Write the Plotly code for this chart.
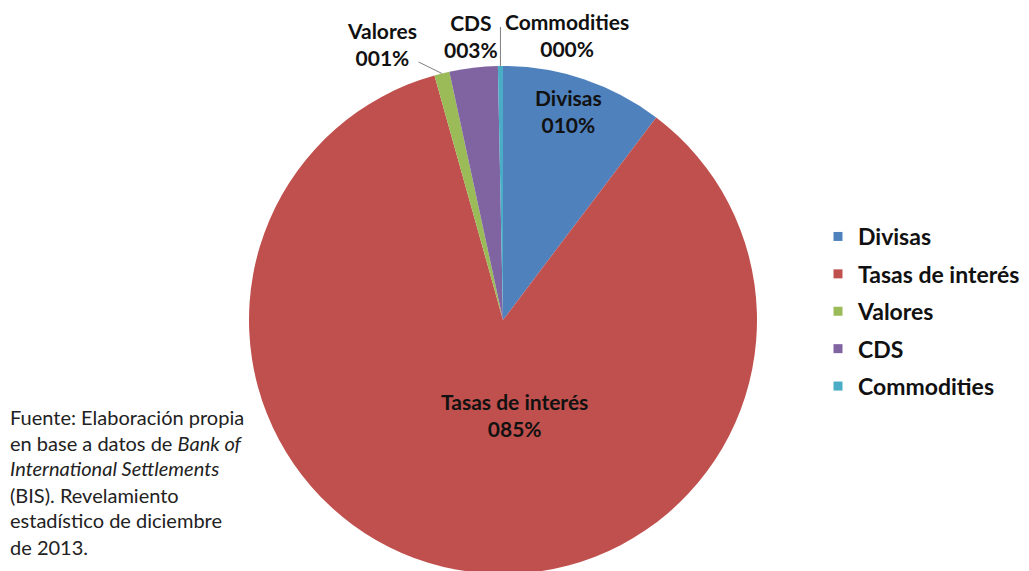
import math
import plotly.graph_objects as go

# Data (notional amounts, BIS, Dec 2013, trillions USD)
categories = ["Divisas", "Tasas de interés", "Valores", "CDS", "Commodities"]
values = [70.6, 584.8, 6.6, 21.0, 2.2]
colors = ["#4F81BD", "#C0504D", "#9BBB59", "#8064A2", "#4BACC6"]
footnote_lines = [
    "Fuente: Elaboración propia",
    "en base a datos de <i>Bank of</i>",
    "<i>International Settlements</i>",
    "(BIS). Revelamiento",
    "estadístico de diciembre",
    "de 2013.",
]

FONT = "Lato"
OFF = 8  # page body margin
W, H = 1021, 566
MT, MB = 58, 0
R_PX = (H - MT - MB) / 2
CX_PAGE = 503
DOM_X = [(CX_PAGE - OFF - R_PX - 2) / W, (CX_PAGE - OFF + R_PX + 2) / W]

def px_x(px):
    return (px - OFF) / W

def px_y(py):
    return (H - MB - (py - OFF)) / (H - MT - MB)

total = sum(values)
r = R_PX
cx = CX_PAGE
cy = OFF + MT + r

def slice_point(i, frac=0.5, rr=r):
    cum = sum(values[:i]) + values[i] * frac
    a = 2 * math.pi * cum / total
    return cx + rr * math.sin(a), cy - rr * math.cos(a)

def pct(v):
    return f"{v/total:04.0%}"

LABEL_FONT = dict(family=FONT, size=21, color="#111111", weight="bold")

fig = go.Figure()
fig.add_trace(go.Pie(
    labels=categories, values=values, sort=False, direction="clockwise", rotation=0,
    marker=dict(colors=colors, line=dict(width=0)),
    textinfo="none",
    domain=dict(x=DOM_X, y=[0, 1]), showlegend=False, hoverinfo="label+percent",
))

for cat, col in zip(categories, colors):
    fig.add_trace(go.Scatter(
        x=[None], y=[None], mode="markers", name=cat, legendgroup=cat,
        marker=dict(symbol="square", size=9, color=col), showlegend=True,
    ))

annotations = []
# labels (page pixel positions of label centres)
label_pos = {0: (568, 111), 1: (514, 415), 3: (471, 36), 4: (567, 35)}
for i, (lx, ly) in label_pos.items():
    annotations.append(dict(
        x=px_x(lx), y=px_y(ly), xref="paper", yref="paper",
        xanchor="center", yanchor="middle",
        text=f"{categories[i]}<br>{pct(values[i])}", showarrow=False,
        font=LABEL_FONT, align="center",
    ))
# Valores with leader line
pxv, pyv = slice_point(2)
annotations.append(dict(
    x=px_x(pxv), y=px_y(pyv), xref="paper", yref="paper",
    text=f"{categories[2]}<br>{pct(values[2])}", showarrow=True,
    ax=382 - pxv, ay=44 - pyv, arrowhead=0, arrowwidth=1, arrowcolor="#7f7f7f", standoff=0,
    font=LABEL_FONT, align="center",
))
# footnote
foot_y = [417, 443, 468, 495, 520, 547]
for line, fy in zip(footnote_lines, foot_y):
    annotations.append(dict(
        x=px_x(8), y=px_y(fy), xref="paper", yref="paper", xanchor="left", yanchor="middle",
        text=line, showarrow=False, align="left",
        font=dict(family=FONT, size=20, color="#222222"),
    ))

pxc, pyc = slice_point(4)
shapes = [dict(type="line", xref="paper", yref="paper",
               x0=px_x(pxc), x1=px_x(pxc), y0=px_y(pyc), y1=px_y(27),
               line=dict(color="#7f7f7f", width=1))]

fig.update_layout(
    width=W, height=H,
    margin=dict(l=0, r=0, t=MT, b=MB),
    paper_bgcolor="white", plot_bgcolor="white",
    xaxis=dict(visible=False), yaxis=dict(visible=False),
    legend=dict(x=px_x(818), y=px_y(215), xanchor="left", yanchor="top",
                font=dict(family=FONT, size=23, color="#111111", weight="bold"),
                tracegroupgap=4.5, bgcolor="rgba(0,0,0,0)"),
    annotations=annotations, shapes=shapes,
)

fig.write_html("out.html")
